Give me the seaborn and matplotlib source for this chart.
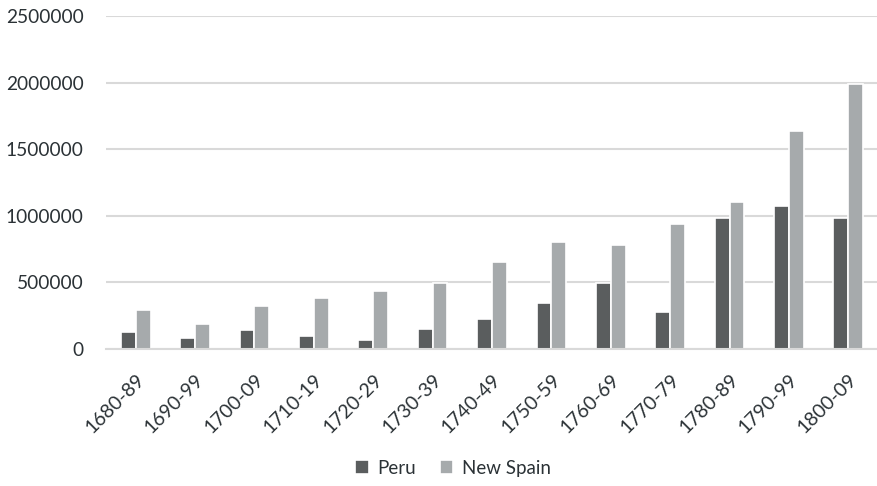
import matplotlib
matplotlib.use("Agg")
import matplotlib.pyplot as plt
import seaborn as sns
import pandas as pd

periods = ["1680-89", "1690-99", "1700-09", "1710-19", "1720-29", "1730-39", "1740-49",
           "1750-59", "1760-69", "1770-79", "1780-89", "1790-99", "1800-09"]
peru = [123000, 82000, 140000, 97000, 67000, 148000, 222000,
        347000, 495000, 275000, 982000, 1075000, 980000]
new_spain = [290000, 185000, 318000, 378000, 432000, 492000, 652000,
             805000, 782000, 937000, 1102000, 1637000, 1990000]
series_names = ["Peru", "New Spain"]
y_ticks = [0, 500000, 1000000, 1500000, 2000000, 2500000]

df = pd.DataFrame({
    "period": periods * 2,
    "value": peru + new_spain,
    "series": [series_names[0]] * len(periods) + [series_names[1]] * len(periods),
})

sns.set_theme(style="white")
plt.rcParams["font.family"] = ["Lato", "DejaVu Sans"]

text_color = "#2B3236"

fig = plt.figure(figsize=(8.78, 4.86), dpi=100)
ax = fig.add_axes([0.1207, 0.2825, 0.8793, 0.6845])

sns.barplot(data=df, x="period", y="value", hue="series", order=periods,
            hue_order=series_names, palette=["#595D5F", "#A5AAAD"],
            width=0.5, edgecolor="white", linewidth=1.2, ax=ax, legend=True)

ax.set_ylim(0, 2500000)
ax.set_xlim(-0.5, 12.5)
ax.set_yticks(y_ticks)
ax.set_yticklabels([str(v) for v in y_ticks])
ax.yaxis.grid(True, color="#D9D9D9", linewidth=1.5)
ax.set_axisbelow(True)
for s in ["top", "right", "left"]:
    ax.spines[s].set_visible(False)
ax.spines["bottom"].set_color("#D9D9D9")
ax.spines["bottom"].set_linewidth(1.5)
ax.set_xlabel("")
ax.set_ylabel("")
ax.tick_params(axis="y", length=0, labelsize=13.8, labelcolor=text_color, pad=16)
ax.tick_params(axis="x", length=0, labelsize=14, labelcolor=text_color, pad=16)
for lbl in ax.get_xticklabels():
    lbl.set_rotation(45)
    lbl.set_ha("right")
    lbl.set_rotation_mode("anchor")

ax.legend_.remove()
handles, labels = ax.get_legend_handles_labels()
fig.legend(handles[:2], labels[:2], loc="center", bbox_to_anchor=(0.516, 0.037),
           ncol=2, frameon=False, fontsize=13.5, handlelength=0.7, handleheight=0.7,
           handletextpad=0.45, columnspacing=1.3, labelcolor=text_color)

fig.savefig("out.png", dpi=100)
